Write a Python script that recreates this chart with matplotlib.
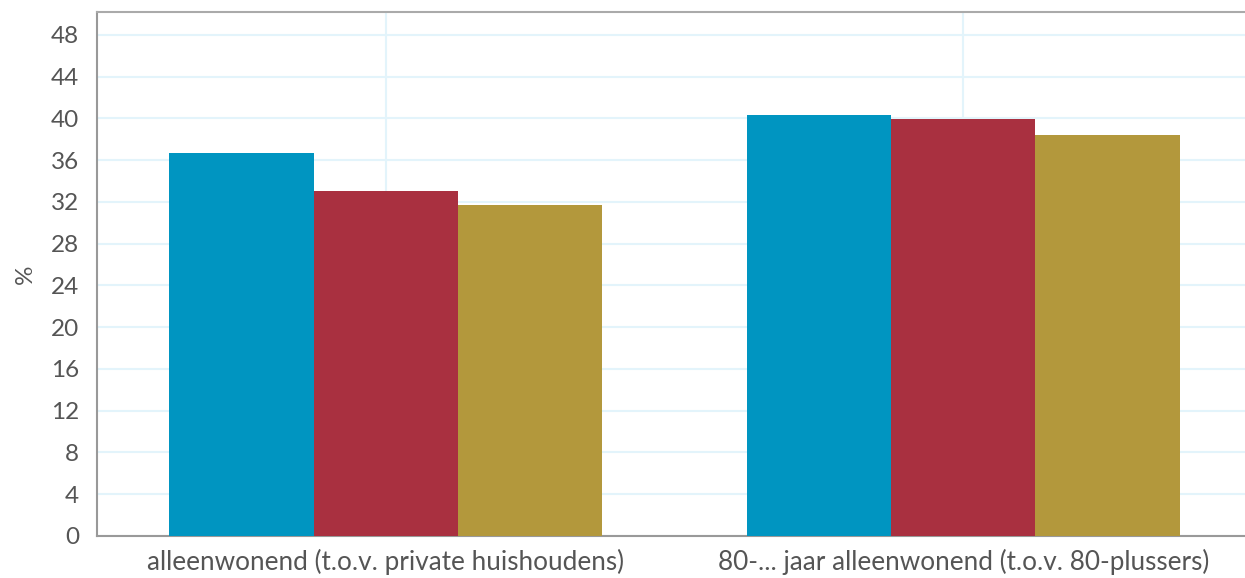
import matplotlib
matplotlib.use("Agg")
import matplotlib.pyplot as plt
import numpy as np

categories = ["alleenwonend (t.o.v. private huishoudens)",
              "80-... jaar alleenwonend (t.o.v. 80-plussers)"]
series_a = [36.7, 40.3]
series_b = [33.05, 39.95]
series_c = [31.7, 38.4]
colors = ["#0095c1", "#a93040", "#b3983c"]
yticks = list(range(0, 49, 4))

plt.rcParams['font.family'] = ['Lato', 'DejaVu Sans']
text_color = "#555555"

fig = plt.figure(figsize=(12.45, 5.78), dpi=100)
ax = fig.add_axes([97/1245, 1 - 536/578, (1252 - 97)/1245, (536 - 12)/578])

x = np.arange(len(categories))
w = 0.25
for i, (vals, c) in enumerate(zip([series_a, series_b, series_c], colors)):
    ax.bar(x + (i - 1) * w, vals, width=w, color=c, zorder=3, linewidth=0)

ax.set_xlim(-0.5, 1.5)
ax.set_ylim(0, 50.2)
ax.set_yticks(yticks)
ax.set_xticks(x)
ax.set_xticklabels(categories)
ax.grid(True, color="#e3f4fb", linewidth=1.5, zorder=0)
ax.set_axisbelow(True)

for s in ["left", "bottom", "top"]:
    ax.spines[s].set_color("#999999")
    ax.spines[s].set_linewidth(1.5)
ax.spines["top"].set_color("#aaaaaa")
ax.spines["right"].set_visible(False)

ax.tick_params(axis="y", length=0, labelsize=17.5, colors=text_color, pad=13)
ax.tick_params(axis="x", length=0, labelsize=18.8, colors=text_color, pad=9)
ax.set_ylabel("%", fontsize=17.5, color=text_color, labelpad=11)

fig.savefig("out.png", dpi=100)
